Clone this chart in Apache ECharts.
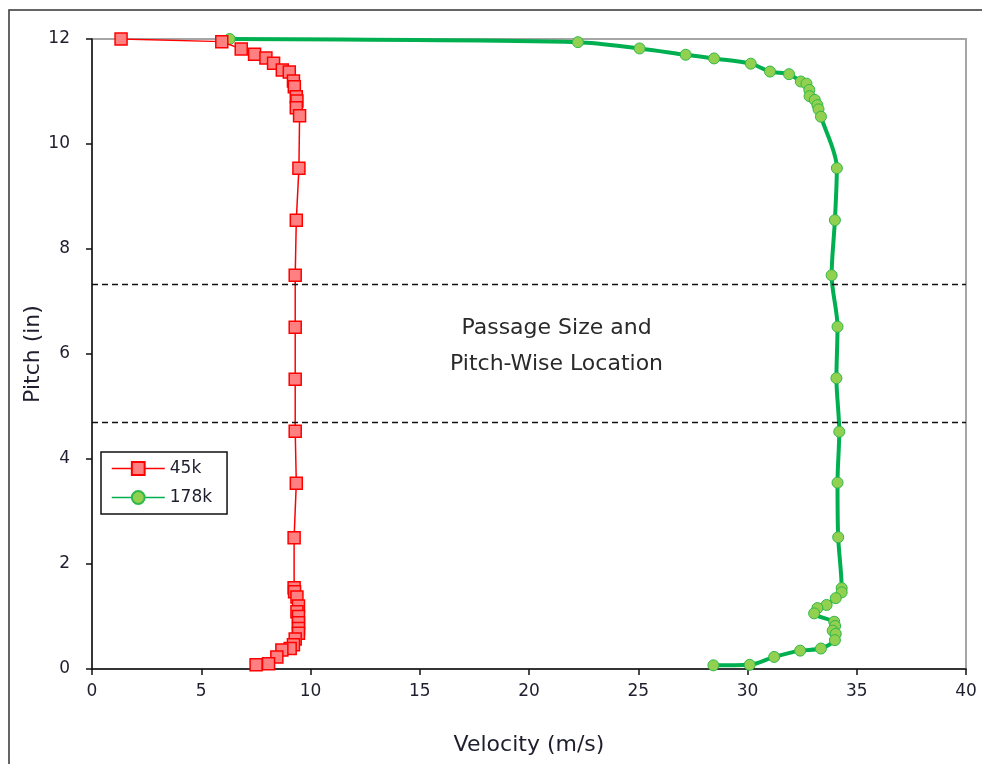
<!DOCTYPE html>
<html>
<head>
<meta charset="utf-8">
<script src="https://cdn.jsdelivr.net/npm/echarts@6/dist/echarts.min.js"></script>
<style>
  html, body { margin: 0; padding: 0; background: #fff; }
  #chart { width: 982px; height: 764px; }
</style>
</head>
<body>
<div id="chart"></div>
<script>
// Velocity profiles across the pitch, two Reynolds numbers
const pitch45 = [12.0, 11.95, 11.81, 11.71, 11.64, 11.54, 11.41, 11.37, 11.2, 11.09, 10.9, 10.82, 10.69, 10.54,
  9.54, 8.55, 7.5, 6.51, 5.52, 4.53, 3.54, 2.5, 1.55, 1.47, 1.37, 1.2, 1.09, 1.0, 0.88, 0.77, 0.68, 0.57,
  0.46, 0.39, 0.36, 0.23, 0.1, 0.08];
const vel45 = [1.33, 5.94, 6.83, 7.44, 7.96, 8.31, 8.71, 9.03, 9.22, 9.26, 9.35, 9.38, 9.35, 9.5,
  9.47, 9.35, 9.3, 9.3, 9.3, 9.3, 9.35, 9.25, 9.25, 9.27, 9.38, 9.45, 9.38, 9.45, 9.45, 9.45, 9.45, 9.3,
  9.22, 9.07, 8.69, 8.46, 8.08, 7.51];

const pitch178 = [12.0, 11.94, 11.82, 11.7, 11.63, 11.53, 11.38, 11.33, 11.19, 11.15, 11.03, 10.91, 10.84, 10.74,
  10.66, 10.52, 9.54, 8.55, 7.5, 6.52, 5.54, 4.52, 3.55, 2.51, 1.54, 1.46, 1.35, 1.22, 1.16, 1.06, 0.9,
  0.82, 0.73, 0.67, 0.55, 0.39, 0.35, 0.23, 0.08, 0.07];
const vel178 = [6.3, 22.24, 25.06, 27.17, 28.47, 30.15, 31.03, 31.9, 32.44, 32.7, 32.83, 32.84, 33.08, 33.2,
  33.25, 33.36, 34.09, 34.0, 33.85, 34.12, 34.07, 34.2, 34.12, 34.15, 34.31, 34.31, 34.04, 33.62, 33.2, 33.05, 33.97,
  34.01, 33.9, 34.04, 34.0, 33.36, 32.41, 31.22, 30.1, 28.44];

// Passage bounds (pitch, in)
const passageBounds = [7.33, 4.70];
const passageLabel = ['Passage Size and', 'Pitch-Wise Location'];
const labelAt = [21.26, 6.15];

const seriesNames = ['45k', '178k'];

const FONT = 'DejaVu Sans';
const TXT = '#1e1e2e';

const zip = (xs, ys) => xs.map((x, i) => [x, ys[i]]);

const chart = echarts.init(document.getElementById('chart'), null, { renderer: 'canvas' });

chart.setOption({
  animation: false,
  backgroundColor: '#fff',
  grid: {
    left: 92, top: 39, right: 16, bottom: 95,
    show: true, borderColor: '#a6a6a6', borderWidth: 2, backgroundColor: 'transparent'
  },
  xAxis: {
    type: 'value', min: 0, max: 40, interval: 5,
    name: 'Velocity (m/s)', nameLocation: 'middle', nameGap: 65, nameMoveOverlap: false,
    nameTextStyle: { fontFamily: FONT, fontSize: 22, color: TXT },
    axisLine: { show: true, onZero: false, lineStyle: { color: '#111', width: 1.5 } },
    axisTick: { show: true, inside: false, length: 6, lineStyle: { color: '#111', width: 1.5 } },
    axisLabel: { margin: 14, fontFamily: FONT, fontSize: 17, color: TXT },
    splitLine: { show: false }
  },
  yAxis: {
    type: 'value', min: 0, max: 12, interval: 2,
    name: 'Pitch (in)', nameLocation: 'middle', nameGap: 48, nameMoveOverlap: false,
    nameTextStyle: { fontFamily: FONT, fontSize: 22, color: TXT },
    axisLine: { show: true, onZero: false, lineStyle: { color: '#111', width: 1.5 } },
    axisTick: { show: true, inside: false, length: 6, lineStyle: { color: '#111', width: 1.5 } },
    axisLabel: { margin: 22, fontFamily: FONT, fontSize: 17, color: TXT },
    splitLine: { show: false }
  },
  legend: {
    orient: 'vertical',
    left: 101, top: 452,
    backgroundColor: '#fff',
    borderColor: '#111', borderWidth: 1.5,
    padding: [8, 15, 8, 10],
    itemWidth: 53, itemHeight: 16, itemGap: 12,
    textStyle: { fontFamily: FONT, fontSize: 17, color: TXT },
    data: [
      { name: seriesNames[0], lineStyle: { width: 1.5 } },
      { name: seriesNames[1], lineStyle: { width: 1.5 } }
    ]
  },
  series: [
    {
      name: seriesNames[1],
      type: 'line',
      data: zip(vel178, pitch178),
      smooth: 0.3,
      symbol: 'circle', symbolSize: 11,
      lineStyle: { color: '#00b050', width: 4 },
      itemStyle: { color: '#92d050', borderColor: '#2fb84a', borderWidth: 1 },
      z: 3,
      markLine: {
        silent: true, symbol: 'none',
        label: { show: false },
        lineStyle: { color: '#111', type: [6, 4], width: 1.3 },
        data: passageBounds.map(v => ({ yAxis: v }))
      }
    },
    {
      name: seriesNames[0],
      type: 'line',
      data: zip(vel45, pitch45),
      symbol: 'rect', symbolSize: 12,
      lineStyle: { color: '#ff0000', width: 1.5 },
      itemStyle: { color: '#ff8080', borderColor: '#ff0000', borderWidth: 1.5 },
      z: 4
    }
  ]
});

// Passage annotation, anchored in data space
const p = chart.convertToPixel({ gridIndex: 0 }, labelAt);
chart.setOption({
  graphic: [
    // outer frame
    {
      type: 'rect', silent: true, z: -1,
      shape: { x: 9, y: 10, width: 1200, height: 900 },
      style: { fill: 'none', stroke: '#333', lineWidth: 1.5 }
    },
    {
      type: 'text', silent: true,
      x: p[0], y: p[1],
      style: {
        text: passageLabel.join('\n'),
        fontFamily: FONT, fontSize: 22, lineHeight: 36,
        fill: '#2a2a2a', align: 'center', verticalAlign: 'middle'
      }
    }
  ]
});
</script>
</body>
</html>
